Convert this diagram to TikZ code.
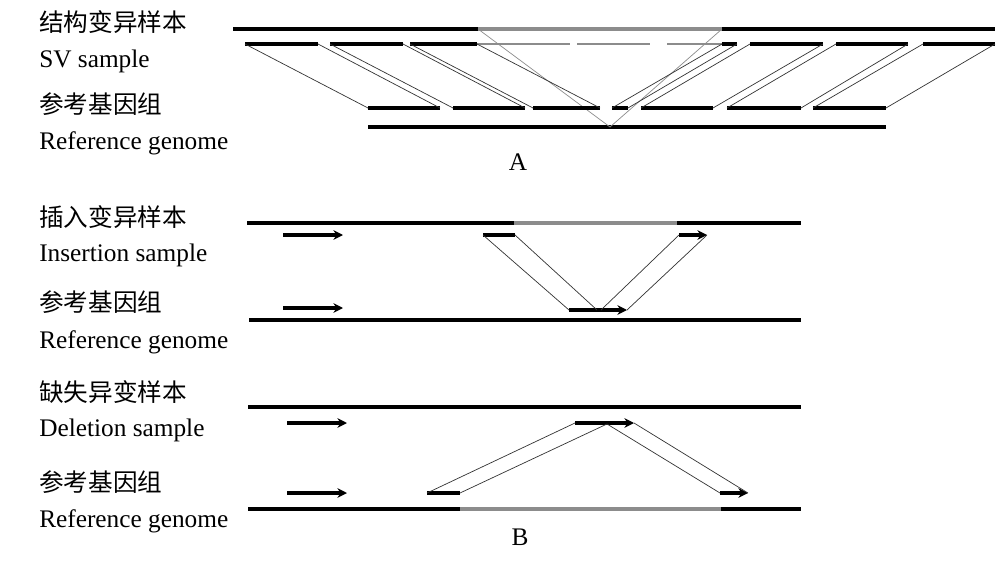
\documentclass[tikz,border=0pt]{standalone}
\usepackage{fontspec}
\setmainfont{Liberation Serif}
\newfontfamily\cjk{Noto Sans CJK SC}
\usepackage{tikz}
\usetikzlibrary{arrows.meta}
\tikzstyle{lbl} = [anchor=west, inner sep=0pt, font=\fontsize{18}{20}\selectfont]
\tikzstyle{zh} = [anchor=west, inner sep=0pt, font=\fontsize{17.5}{20}\selectfont\cjk]
\tikzstyle{dna} = [line width=2.2pt]
\tikzstyle{gap} = [line width=2.6pt, black!45]
\tikzstyle{thin} = [line width=0.9pt, black!45]
\tikzstyle{link} = [line width=0.5pt, black!80]
\tikzstyle{read} = [line width=2.2pt, -{Stealth[length=2.4mm, width=2.4mm]}]

\begin{document}
\begin{tikzpicture}[x=0.025cm, y=-0.025cm]
    \useasboundingbox (0,0) rectangle (1007,578);
    % labels
    \node[zh]  (svzh)  at (39,22)  {结构变异样本};
    \node[lbl] (sven)  at (39,61)  {SV sample};
    \node[zh]  (rfzh1) at (39,104) {参考基因组};
    \node[lbl] (rfen1) at (39,143) {Reference genome};
    \node[zh]  (inzh)  at (39,217) {插入变异样本};
    \node[lbl] (inen)  at (39,255) {Insertion sample};
    \node[zh]  (rfzh2) at (39,302) {参考基因组};
    \node[lbl] (rfen2) at (39,342) {Reference genome};
    \node[zh]  (dlzh)  at (39,392) {缺失异变样本};
    \node[lbl] (dlen)  at (39,430) {Deletion sample};
    \node[zh]  (rfzh3) at (39,482) {参考基因组};
    \node[lbl] (rfen3) at (39,521) {Reference genome};
    \node[font=\fontsize{18}{20}\selectfont] (capA) at (518,162) {A};
    \node[font=\fontsize{18}{20}\selectfont] (capB) at (520,537) {B};

    % A: structural variant
    \draw[dna] (233,29) -- (995,29);
    \draw[gap] (478,29) coordinate (va) -- (722,29) coordinate (vb);
    \draw[thin] (477,44) -- (570,44) (577,44) -- (650,44) (667,44) -- (722,44);
    \draw[dna] (368,127) -- (886,127);
    \coordinate (vc) at (610,127);
    \draw[thin, line width=0.5pt] (va) -- (vc) -- (vb);
    \foreach \a/\b/\c/\d [count=\i] in {245/318/368/440, 330/403/453/525,
        410/477/533/600, 722/737/612/628, 750/823/641/713,
        836/908/727/801, 923/995/813/886} {
      \draw[dna] (\a,44) coordinate (sa\i) -- (\b,44) coordinate (sb\i);
      \draw[dna] (\c,108) coordinate (ra\i) -- (\d,108) coordinate (rb\i);
      \draw[link] (sa\i) -- (ra\i) (sb\i) -- (rb\i);
    }

    % B: insertion
    \draw[dna] (247,223) -- (801,223);
    \draw[gap] (514,223) -- (677,223);
    \draw[dna] (249,320) -- (801,320);
    \draw[read] (283,235) -- (343,235);
    \draw[read] (283,308) -- (343,308);
    \draw[dna] (483,235) coordinate (ia) -- (515,235) coordinate (ib);
    \draw[read] (679,235) coordinate (ic) -- (707,235) coordinate (id);
    \draw[read] (569,310) coordinate (ja) -- (627,310) coordinate (jd);
    \coordinate (jb) at (597,310);
    \coordinate (jc) at (601,310);
    \draw[link] (ia) -- (ja) (ib) -- (jb) (ic) -- (jc) (id) -- (jd);

    % B: deletion
    \draw[dna] (248,407) -- (801,407);
    \draw[dna] (248,509) -- (801,509);
    \draw[gap] (460,509) -- (721,509);
    \draw[read] (287,423) -- (347,423);
    \draw[read] (287,493) -- (347,493);
    \draw[read] (575,423) coordinate (ka) -- (634,423) coordinate (kd);
    \coordinate (kb) at (607,424);
    \draw[dna] (427,493) coordinate (la) -- (460,493) coordinate (lb);
    \draw[read] (720,493) coordinate (lc) -- (748,493) coordinate (ld);
    \draw[link] (la) -- (ka) (lb) -- (kb) -- (lc) (kd) -- (ld);
  \end{tikzpicture}
\end{document}
